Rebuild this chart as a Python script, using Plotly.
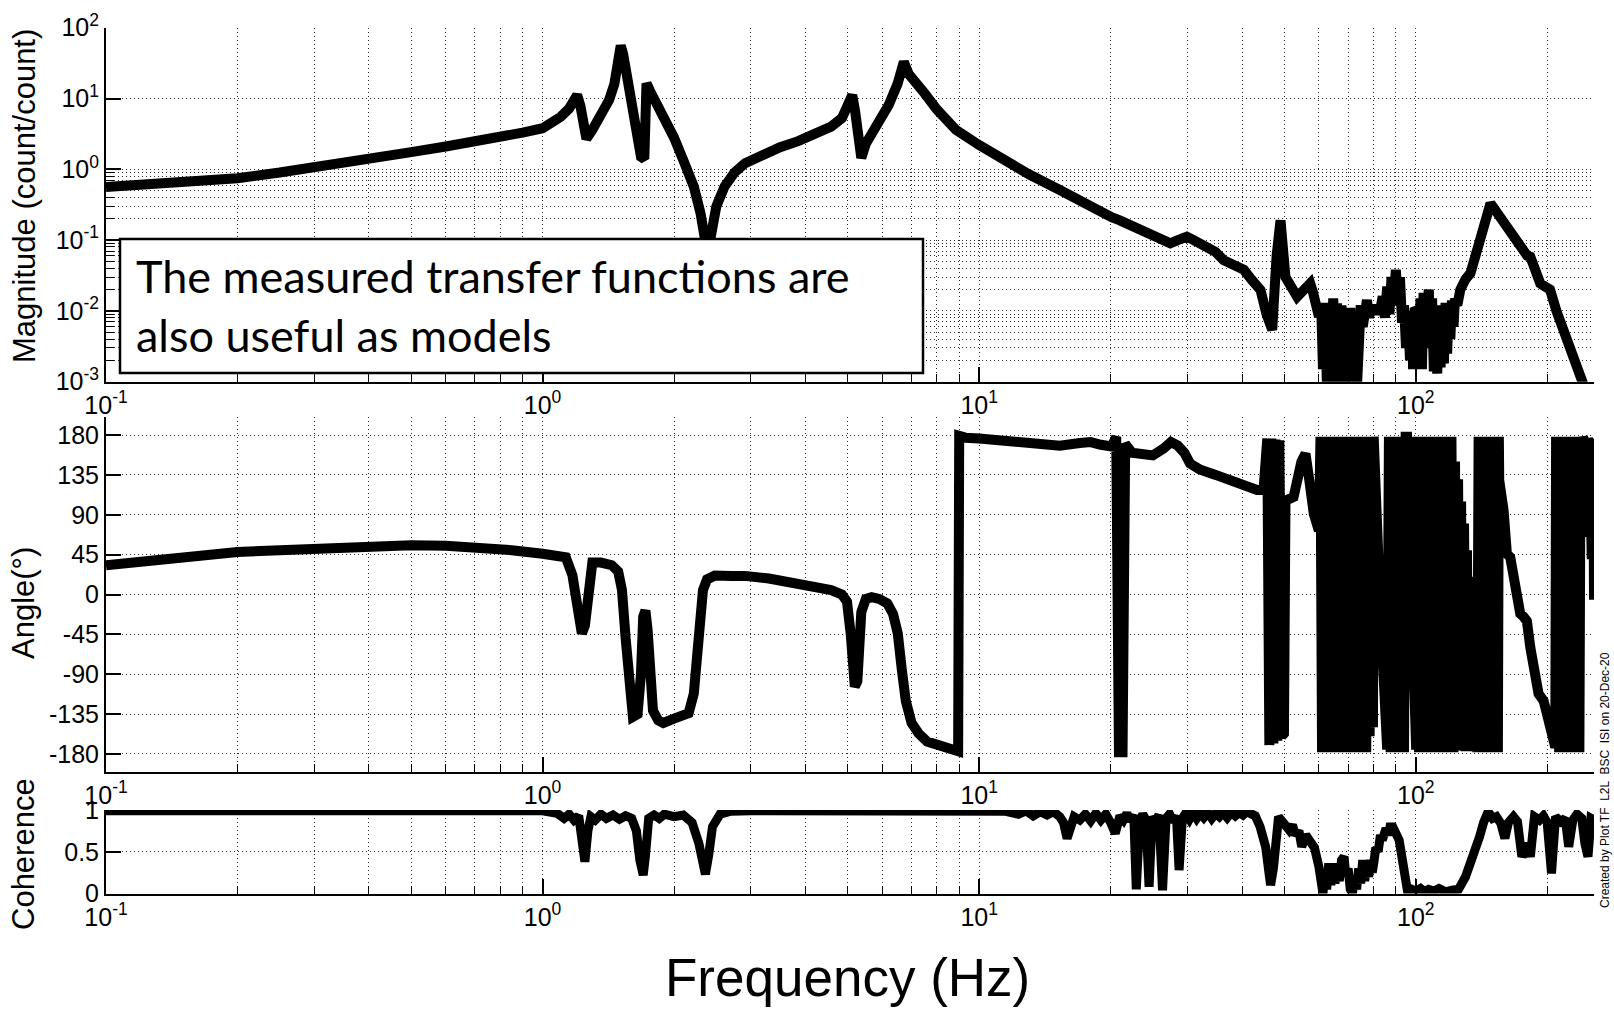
import math
import plotly.graph_objects as go

# ---------------------------------------------------------------------------
# Measured transfer function: magnitude (count/count), phase (deg), coherence
# ---------------------------------------------------------------------------

# Magnitude, 0.1 - 1 Hz
mag_freq_a = [0.1, 0.13, 0.16, 0.2, 0.25, 0.3, 0.4, 0.5, 0.6, 0.7, 0.8, 0.9, 1.0]
mag_vals_a = [0.56, 0.63, 0.69, 0.75, 0.9, 1.05, 1.4, 1.75, 2.1, 2.45, 2.85, 3.3, 3.8]

# Magnitude, 1 - 10 Hz (suspension resonances)
mag_freq_b = [1.05, 1.1, 1.15, 1.18, 1.2, 1.22, 1.24, 1.26, 1.3, 1.37,
              1.42, 1.46, 1.49, 1.51, 1.53, 1.56, 1.6, 1.64, 1.68, 1.71,
              1.73, 1.76, 1.8, 1.89, 2.0, 2.1, 2.22, 2.3, 2.36, 2.39,
              2.42, 2.5, 2.61, 2.75, 2.91, 3.2, 3.5, 3.85, 4.2, 4.58,
              4.85, 5.0, 5.12, 5.2, 5.28, 5.37, 5.5, 5.86, 6.2, 6.5,
              6.72, 6.9, 7.2, 7.5, 8.0, 8.85, 10.0]
mag_vals_b = [4.5, 5.5, 7.2, 9.0, 11.2, 8.0, 4.5, 2.7, 3.6, 6.2,
              9.5, 16, 32, 56, 42, 22, 9.0, 3.5, 1.5, 1.4,
              16.4, 13, 10, 6.2, 2.8, 1.35, 0.57, 0.24, 0.1, 0.06,
              0.1, 0.3, 0.57, 0.9, 1.22, 1.65, 2.05, 2.5, 3.1, 4.0,
              5.3, 7.5, 11.2, 6.5, 2.2, 1.45, 2.3, 4.4, 8.0, 16,
              33, 22, 15, 11.8, 7.0, 3.6, 2.2]

# Magnitude, 10 - 45 Hz
mag_freq_c = [11.6, 13, 15.3, 17.5, 20.1, 21, 22, 23.1, 24.7, 26,
              27.4, 28.5, 29.9, 31, 32, 33.3, 34.8, 36.3, 38, 40.4,
              42, 44.1]
mag_vals_c = [1.22, 0.85, 0.51, 0.32, 0.21, 0.19, 0.165, 0.14, 0.125, 0.1,
              0.09, 0.1, 0.112, 0.1, 0.088, 0.081, 0.068, 0.052, 0.045, 0.038,
              0.028, 0.0197]

# Magnitude, 45 - 256 Hz (noisy, low coherence)
mag_freq_d = [45.5, 46.9, 48, 49, 50.3,
              52, 53.5, 55.5, 57.3, 58.2,
              59, 60, 60.7, 61.3, 62,
              62.6, 63.3, 64, 64.7, 65.4,
              66, 66.8, 67.6, 68.4, 69.2,
              70, 70.8, 71.6, 72.4, 73.3,
              74, 74.8, 75.6, 76.4, 77.3,
              78.2, 79, 80, 81, 82,
              82.9, 84, 85, 86, 87,
              88, 89, 90, 91, 92,
              93, 94, 95, 96, 97,
              98, 98.6, 99.5, 100.6, 101.5,
              102.5, 103.3, 104.2, 105, 106,
              107.1, 108, 109, 110, 111,
              112, 113, 114, 115, 116,
              117, 118, 119, 120, 121,
              122, 123, 124.5, 126.5, 130,
              133.4, 137, 140.6, 144, 148.3,
              150, 153, 156.2, 160, 163,
              167.6, 172, 176, 180, 183,
              188, 192.8, 198, 203, 210,
              218, 225, 234, 240, 244]
mag_vals_d = [0.009, 0.0054, 0.06, 0.19, 0.03,
              0.02, 0.0158, 0.02, 0.0245, 0.018,
              0.012, 0.0083, 0.013, 0.0015, 0.012,
              0.0008, 0.013, 0.0009, 0.015, 0.003,
              0.0128, 0.0009, 0.012, 0.0008, 0.0105,
              0.004, 0.011, 0.0009, 0.0012, 0.0008,
              0.004, 0.012, 0.006, 0.014, 0.0142,
              0.008, 0.012, 0.009, 0.012, 0.0095,
              0.0103, 0.016, 0.008, 0.022, 0.009,
              0.03, 0.012, 0.038, 0.015, 0.03,
              0.0068, 0.012, 0.003, 0.01, 0.002,
              0.008, 0.0015, 0.011, 0.0103, 0.002,
              0.015, 0.0015, 0.018, 0.003, 0.02,
              0.02, 0.004, 0.015, 0.0014, 0.01,
              0.0013, 0.012, 0.0016, 0.012, 0.0018,
              0.013, 0.0025, 0.0128, 0.004, 0.014,
              0.006, 0.015, 0.012, 0.02, 0.028,
              0.034, 0.06, 0.112, 0.2, 0.33,
              0.3, 0.25, 0.214, 0.17, 0.14,
              0.112, 0.085, 0.07, 0.06, 0.058,
              0.035, 0.0245, 0.022, 0.02, 0.01,
              0.0054, 0.003, 0.0018, 0.0011, 0.0008]

# Phase, 0.1 - 9 Hz
ang_freq_a = [0.1, 0.12, 0.15, 0.2, 0.25, 0.3, 0.4, 0.5, 0.6, 0.7,
              0.85, 1.0, 1.08, 1.13, 1.17, 1.2, 1.23, 1.25, 1.27, 1.3,
              1.36, 1.44, 1.49, 1.52, 1.55, 1.58, 1.61, 1.65, 1.68, 1.7,
              1.72, 1.74, 1.76, 1.79, 1.84, 1.89, 2.0, 2.1, 2.16, 2.22,
              2.28, 2.33, 2.38, 2.48, 2.7, 2.91, 3.3, 3.81, 4.2, 4.58,
              4.85, 4.98, 5.08, 5.19, 5.26, 5.32, 5.37, 5.5, 5.67, 5.9,
              6.16, 6.35, 6.51, 6.65, 6.79, 7.0, 7.27, 7.6, 8.1, 8.5,
              8.84, 8.95]
ang_deg_a = [33, 37, 42, 48, 50, 52, 55, 55.5, 55, 54,
             50, 46, 44, 42, 22, -5, -44, -35, 5, 36,
             36, 33, 26, 5, -50, -110, -138, -135, -90, -25,
             -18, -40, -95, -131, -142, -145, -140, -137, -134, -112,
             -60, 5, 17, 21.5, 21, 21, 18, 13, 10, 5,
             0, -8, -45, -104, -98, -50, -20, -5, -3, -5,
             -10, -22, -44, -85, -120, -145, -157, -166, -170.5, -174,
             -178, -177]

# Phase, 9 - 45 Hz
ang_freq_b = [9.0, 9.3, 10, 11.6, 13, 15.3, 17, 18, 19, 20.1,
              20.6, 20.9, 21.3, 21.6, 22.4, 25, 26.5, 27.5, 28.5, 29.5,
              30.4, 32, 34.8, 37, 39.9, 43.3, 44.8]
ang_deg_b = [179, 177, 176, 174, 172, 168, 171, 172, 169, 167,
             178, -178, -178, 170, 160, 157, 165, 172, 168, 160,
             148, 141, 135, 130, 125, 118, 118]

# Phase, 45 - 60 Hz
ang_freq_c = [45.7, 46.2, 46.7, 47.2, 47.7, 48.2, 48.7, 49.3, 49.9, 50.3,
              52.5, 54.7, 55.9, 57, 58.4, 60]
ang_deg_c = [176, -170, 176, -168, 175, -165, 174, -160, -157, 106,
             110, 150, 159, 130, 91, 72]

# Phase, 60 - 100 Hz (wrapping)
ang_freq_d = [60.5, 61.0, 61.6, 62.2, 62.8, 63.4, 64.0, 64.6, 65.2, 65.8,
              66.4, 67.0, 67.6, 68.2, 68.8, 69.4, 70.0, 70.8, 72.1, 72.8,
              73.5, 74.2, 74.9, 75.6, 76.3, 77.0, 77.7, 78.4, 79.1, 79.8,
              80.1, 83.0, 86.0, 86.8, 87.6, 88.4, 89.2, 90.0, 90.8, 91.6,
              92.4, 93.2, 94.0, 94.8, 95.5, 100.2]
ang_deg_d = [178, -178, 178, -178, 178, -178, 178, -178, 178, -178,
             178, -178, 178, -178, 178, -178, 178, -178, 178, -178,
             178, -178, 178, -178, 178, -178, 178, -160, 178, -150,
             178, -20, -175, 178, -178, 178, -178, 178, -178, 178,
             -178, 178, -178, 178, 178, -175]

# Phase, 100 - 155 Hz (wrapping)
ang_freq_e = [100.7, 101.7, 102.7, 103.7, 104.7, 105.7, 106.7, 107.7, 108.7, 109.7,
              110.7, 111.7, 112.7, 113.7, 114.7, 115.7, 116.7, 117.7, 118.7, 119.7,
              120.7, 122.0, 123.0, 124.0, 125.0, 126.0, 127.0, 128.0, 129.0, 130.0,
              131.0, 132.0, 133.0, 134.0, 135.0, 136.0, 136.9, 137.5, 138.3, 139.3,
              140.3, 141.3, 142.3, 143.3, 144.3, 145.3, 146.3, 147.3, 148.3, 149.3,
              150.3, 151.3, 152.3, 153.3, 154.2, 155.0]
ang_deg_e = [178, -178, 178, -178, 178, -178, 178, -178, 178, -178,
             178, -178, 178, -178, 178, -178, 178, -178, 178, -178,
             178, -178, 150, -175, 130, -176, 105, -176, 80, -177,
             50, -177, 20, -177, -20, -177, -70, -115, -178, 178,
             -178, 178, -178, 178, -178, 178, -178, 178, -178, 178,
             -178, 178, -178, 178, -178, 178]

# Phase, 155 - 256 Hz
ang_freq_f = [155.3, 158.9, 161.7, 164.6, 167.5, 170.6, 173.5, 176.5, 179.7, 183.0,
              186.2, 191.1, 196.3, 200.0, 203.2, 208.7, 209.6, 210.6, 211.8, 213.0,
              214.2, 215.4, 216.6, 217.8, 219.0, 220.2, 221.4, 222.6, 223.8, 225.0,
              226.2, 227.4, 228.6, 229.8, 231.0, 232.2, 233.4, 234.6, 235.8, 237.0,
              238.5, 240.5, 241.5, 244.0, 246.6, 248.0, 250.0, 253.0, 255.0, 256.0]
ang_deg_f = [129, 95, 46, 42, 20, 8.5, -21.6, -25, -30, -60,
             -82, -112, -120, -135, -150, -172.5, 178, -178, 178, -178,
             178, -178, 178, -178, 178, -178, 178, -178, 178, -178,
             178, -178, 178, -178, 178, -178, 178, -178, 178, -178,
             178, 118, 178, 170, 65, 176, 170, 40, 176, -6]

# Coherence, 0.1 - 3 Hz
coh_freq_a = [0.1, 0.14, 0.155, 0.165, 0.18, 0.25, 0.35, 0.5, 0.7, 0.85,
              1.0, 1.08, 1.12, 1.15, 1.18, 1.21, 1.23, 1.25, 1.27, 1.29,
              1.32, 1.36, 1.4, 1.45, 1.5, 1.55, 1.6, 1.64, 1.67, 1.7,
              1.72, 1.75, 1.8, 1.85, 1.9, 2.0, 2.1, 2.2, 2.28, 2.33,
              2.36, 2.4, 2.45, 2.55, 2.7, 3.0]
coh_vals_a = [0.99, 0.99, 0.965, 0.99, 0.99, 0.99, 0.985, 0.99, 0.985, 0.99,
              0.99, 0.96, 0.9, 0.95, 0.88, 0.93, 0.7, 0.38, 0.75, 0.92,
              0.88, 0.95, 0.9, 0.94, 0.89, 0.93, 0.9, 0.75, 0.4, 0.22,
              0.45, 0.9, 0.94, 0.9, 0.95, 0.92, 0.94, 0.85, 0.6, 0.35,
              0.23, 0.45, 0.8, 0.95, 0.985, 0.99]

# Coherence, 3 - 45 Hz
coh_freq_b = [5, 7, 8.5, 10, 11.5,
              12.3, 12.8, 13.3, 13.8, 14.3,
              14.8, 15.3, 15.6, 15.9, 16.2,
              16.5, 17, 17.5, 18, 18.5,
              19, 19.5, 20, 20.5, 21,
              21.4, 21.8, 22.2, 22.6, 22.9,
              23.3, 23.7, 24.1, 24.5, 24.9,
              25.3, 25.8, 26.3, 26.8, 27.3,
              27.8, 28.3, 28.7, 29.2, 29.7,
              30.3, 30.9, 31.5, 32.1, 32.7,
              33.4, 34.1, 34.8, 35.5, 36.2,
              37, 37.8, 38.6, 39.4, 40.2,
              41, 42, 42.9, 44, 45.3]
coh_vals_b = [0.99, 0.985, 0.99, 0.99, 0.985,
              0.95, 0.99, 0.93, 0.98, 0.94,
              0.98, 0.92, 0.85, 0.66, 0.8,
              0.92, 0.88, 0.95, 0.87, 0.96,
              0.88, 0.95, 0.85, 0.72, 0.93,
              0.88, 0.96, 0.87, 0.94, 0.05,
              0.85, 0.95, 0.88, 0.08, 0.92,
              0.86, 0.94, 0.04, 0.9, 0.95,
              0.86, 0.93, 0.28, 0.9, 0.96,
              0.89, 0.97, 0.9, 0.96, 0.91,
              0.97, 0.9, 0.96, 0.92, 0.97,
              0.91, 0.97, 0.93, 0.97, 0.94,
              0.98, 0.96, 0.93, 0.8, 0.56]

# Coherence, 45 - 256 Hz
coh_freq_c = [46.5, 47.2, 48.5, 50, 51.3,
              52.2, 53, 54, 54.8, 56,
              57.3, 58.6, 60, 60.6, 61.3,
              61.9, 62.5, 63.2, 63.9, 64.6,
              65.3, 66, 66.8, 67.6, 68.5,
              69.2, 70, 70.8, 71.6, 72.4,
              73.2, 74, 74.8, 75.6, 76.4,
              77.2, 78, 78.8, 79.5, 80.2,
              81, 82, 83, 83.8, 85.5,
              86.5, 87.6, 88.5, 89.5, 91.6,
              93.5, 95.8, 98, 100, 102.5,
              104.7, 107, 110, 113, 117,
              121, 125.3, 130, 134, 137,
              140, 143, 146.5, 150, 153,
              156.6, 160, 163, 167.4, 171,
              175, 180, 183, 187, 192,
              196, 200, 204.6, 209, 215,
              220, 224, 229, 234, 240,
              244, 248, 252, 256]
coh_vals_c = [0.1, 0.3, 0.92, 0.85, 0.76,
              0.82, 0.7, 0.75, 0.56, 0.7,
              0.64, 0.55, 0.32, 0.1, 0.0,
              0.25, 0.05, 0.36, 0.1, 0.36,
              0.12, 0.3, 0.15, 0.4, 0.44,
              0.2, 0.3, 0.05, 0.0, 0.2,
              0.05, 0.3, 0.12, 0.4, 0.15,
              0.35, 0.2, 0.4, 0.25, 0.38,
              0.55, 0.5, 0.7, 0.64, 0.78,
              0.7, 0.84, 0.72, 0.75, 0.64,
              0.3, 0.02, 0.05, 0.03, 0.06,
              0.02, 0.05, 0.03, 0.06, 0.02,
              0.04, 0.05, 0.2, 0.38, 0.5,
              0.68, 0.85, 0.98, 0.9, 0.92,
              0.84, 0.66, 0.85, 0.92, 0.86,
              0.44, 0.6, 0.44, 0.92, 0.88,
              0.93, 0.85, 0.24, 0.92, 0.86,
              0.9, 0.56, 0.88, 0.95, 0.9,
              0.6, 0.44, 0.9, 0.88]

# Axis ticks and labels
freq_ticks = [0.1, 1, 10, 100]
freq_labels = ["10<sup>-1</sup>", "10<sup>0</sup>", "10<sup>1</sup>", "10<sup>2</sup>"]
mag_ticks = [1e-3, 1e-2, 1e-1, 1, 10, 100]
mag_labels = ["10<sup>-3</sup>", "10<sup>-2</sup>", "10<sup>-1</sup>",
              "10<sup>0</sup>", "10<sup>1</sup>", "10<sup>2</sup>"]
angle_ticks = [-180, -135, -90, -45, 0, 45, 90, 135, 180]
angle_labels = ["-180", "-135", "-90", "-45", "0", "45", "90", "135", "180"]
coh_ticks = [0, 0.5, 1]
coh_labels = ["0", "0.5", "1"]

note_text = "The measured transfer functions are<br>also useful as models"
stamp_text = "Created by Plot TF  L2L  BSC  ISI on 20-Dec-20"

# ---------------------------------------------------------------------------
# Layout geometry (pixels of a 1614 x 1009 page)
# ---------------------------------------------------------------------------
W, H = 1614, 1009
F_MAX = 256


def px(x):
    return x / W


def py(y):
    return 1 - y / H


X_DOM = [px(106), px(1594)]
MAG_DOM = [py(381.7), py(27.7)]
ANG_DOM = [py(771.7), py(417.3)]
COH_DOM = [py(893.5), py(810)]

FONT = "Liberation Sans, Arial, Helvetica, sans-serif"
GRID = "#2a2a2a"
DASH = "1px,3px"
LINE_W = 10

minor_x = [m * 10 ** k for k in (-1, 0, 1, 2) for m in range(2, 10) if m * 10 ** k < F_MAX]
minor_mag = [m * 10 ** k for k in (-3, -2, -1) for m in range(2, 10)]


def freq_axis(anchor):
    return dict(
        type="log", range=[-1, math.log10(F_MAX)], domain=X_DOM, anchor=anchor,
        tickmode="array", tickvals=freq_ticks, ticktext=freq_labels,
        ticks="inside", ticklen=15, tickwidth=1.5, tickcolor="black",
        showline=True, linecolor="black", linewidth=2, mirror=False,
        showgrid=True, gridcolor=GRID, griddash=DASH, gridwidth=1,
        zeroline=False, automargin=False,
        minor=dict(tickmode="array", tickvals=minor_x, ticks="inside", ticklen=8,
                   tickwidth=1.2, tickcolor="black", showgrid=True,
                   gridcolor=GRID, griddash=DASH, gridwidth=1),
        tickfont=dict(family=FONT, size=25, color="black"),
    )


def value_axis(anchor, domain, **extra):
    d = dict(
        domain=domain, anchor=anchor,
        ticks="inside", ticklen=15, tickwidth=1.5, tickcolor="black",
        showline=True, linecolor="black", linewidth=2, mirror=False,
        showgrid=True, gridcolor=GRID, griddash=DASH, gridwidth=1,
        zeroline=False, automargin=False,
        tickfont=dict(family=FONT, size=25, color="black"),
    )
    d.update(extra)
    return d


fig = go.Figure()

line_style = dict(color="black", width=LINE_W)
fig.add_trace(go.Scatter(
    x=mag_freq_a + mag_freq_b + mag_freq_c + mag_freq_d,
    y=mag_vals_a + mag_vals_b + mag_vals_c + mag_vals_d,
    mode="lines", line=line_style, xaxis="x", yaxis="y", showlegend=False))
fig.add_trace(go.Scatter(
    x=ang_freq_a + ang_freq_b + ang_freq_c + ang_freq_d + ang_freq_e + ang_freq_f,
    y=ang_deg_a + ang_deg_b + ang_deg_c + ang_deg_d + ang_deg_e + ang_deg_f,
    mode="lines", line=line_style, xaxis="x2", yaxis="y2", showlegend=False))
fig.add_trace(go.Scatter(
    x=coh_freq_a + coh_freq_b + coh_freq_c,
    y=coh_vals_a + coh_vals_b + coh_vals_c,
    mode="lines", line=dict(color="black", width=9), xaxis="x3", yaxis="y3",
    showlegend=False))

fig.update_layout(
    width=W, height=H, autosize=False,
    margin=dict(l=0, r=0, t=0, b=0, pad=0, autoexpand=False),
    paper_bgcolor="white", plot_bgcolor="white",
    showlegend=False,
    xaxis=freq_axis("y"),
    xaxis2=freq_axis("y2"),
    xaxis3=freq_axis("y3"),
    yaxis=value_axis(
        "x", MAG_DOM, type="log", range=[-3, 2],
        tickmode="array", tickvals=mag_ticks, ticktext=mag_labels,
        minor=dict(tickmode="array", tickvals=minor_mag, ticks="inside", ticklen=8,
                   tickwidth=1.2, tickcolor="black", showgrid=True,
                   gridcolor=GRID, griddash=DASH, gridwidth=1)),
    yaxis2=value_axis(
        "x2", ANG_DOM, range=[-200, 200],
        tickmode="array", tickvals=angle_ticks, ticktext=angle_labels),
    yaxis3=value_axis(
        "x3", COH_DOM, range=[0, 1],
        tickmode="array", tickvals=coh_ticks, ticktext=coh_labels),
)

# White text box over the magnitude panel
fig.add_shape(type="rect", xref="paper", yref="paper",
              x0=px(120), x1=px(923), y0=py(373), y1=py(239),
              line=dict(color="black", width=2.5), fillcolor="white", layer="above")
fig.add_annotation(xref="paper", yref="paper", x=px(134), y=py(306),
                   xanchor="left", yanchor="middle", align="left",
                   text=note_text, showarrow=False,
                   font=dict(family="Lato, Carlito, sans-serif", size=45, color="black"))

# Axis titles
title_font = dict(family=FONT, size=31, color="black")
fig.add_annotation(xref="paper", yref="paper", x=px(25), y=py(196),
                   text="Magnitude (count/count)", textangle=-90, showarrow=False,
                   xanchor="center", yanchor="middle", font=title_font)
fig.add_annotation(xref="paper", yref="paper", x=px(23), y=py(603),
                   text="Angle(°)", textangle=-90, showarrow=False,
                   xanchor="center", yanchor="middle", font=title_font)
fig.add_annotation(xref="paper", yref="paper", x=px(23), y=py(854),
                   text="Coherence", textangle=-90, showarrow=False,
                   xanchor="center", yanchor="middle", font=title_font)
fig.add_annotation(xref="paper", yref="paper", x=px(847), y=py(977),
                   text="Frequency (Hz)", showarrow=False,
                   xanchor="center", yanchor="middle",
                   font=dict(family=FONT, size=53, color="black"))

# Creation stamp along the right edge
fig.add_annotation(xref="paper", yref="paper", x=px(1605), y=py(780),
                   text=stamp_text, textangle=-90, showarrow=False,
                   xanchor="center", yanchor="middle",
                   font=dict(family=FONT, size=12, color="black"))

fig.write_html("out.html")
